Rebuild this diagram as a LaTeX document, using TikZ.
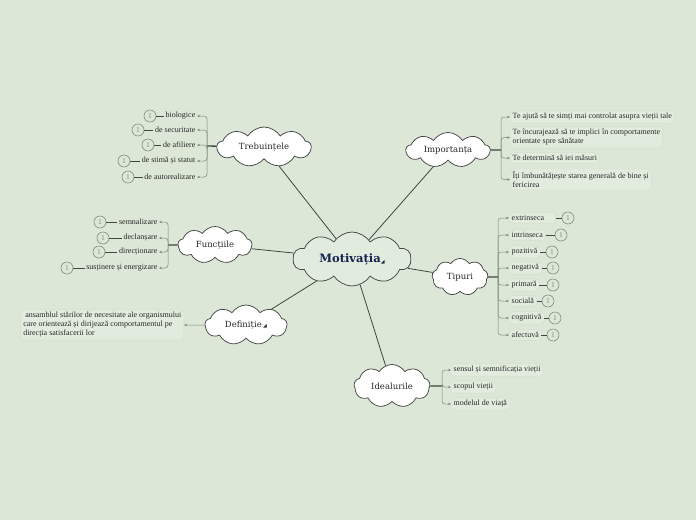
\documentclass[tikz,border=0pt]{standalone}
\usepackage{fontspec}
\setmainfont{Liberation Serif}
\newfontfamily\cloudfont{DejaVu Serif}
\newfontfamily\symfont{DejaVu Sans}
\usetikzlibrary{shapes.symbols,arrows.meta}
\definecolor{bg}{RGB}{220,231,215}
\definecolor{cloudline}{RGB}{70,72,70}
\definecolor{mainline}{RGB}{60,72,64}
\definecolor{brline}{RGB}{120,134,122}
\definecolor{boxfill}{RGB}{226,236,222}
\definecolor{boxline}{RGB}{210,222,206}
\definecolor{numline}{RGB}{130,140,130}
\definecolor{txt}{RGB}{40,40,40}
\definecolor{navy}{RGB}{20,35,80}
\definecolor{motfill}{RGB}{226,236,222}
\tikzset{
  cloudnode/.style={cloud, cloud puffs=9, cloud puff arc=115, cloud ignores aspect, draw=cloudline, fill=white,
    line width=0.75pt, inner sep=0pt, text=txt, font=\cloudfont\fontsize{8.5}{10}\selectfont},
  itemtxt/.style={font=\fontsize{8}{9}\selectfont, inner sep=1.5pt, text=txt},
  boxed/.style={itemtxt, fill=boxfill, draw=boxline, rounded corners=3pt, inner sep=2.5pt,
    line width=0.4pt, align=left},
  numc/.style={circle, draw=numline, line width=0.6pt, minimum size=12pt, inner sep=0pt,
    text=numline, font=\fontsize{7.5}{7.5}\selectfont},
  arr/.style={-{Stealth[length=3pt,width=2.4pt]}, draw=brline, line width=0.5pt, rounded corners=3pt},
  stem/.style={draw=mainline, line width=1.3pt},
  link/.style={draw=mainline, line width=0.8pt},
  dashln/.style={draw=mainline, line width=0.6pt}
}
\begin{document}
\begin{tikzpicture}[x=1pt,y=-1pt]
\fill[bg] (0,0) rectangle (696,520);
\useasboundingbox (0,0) rectangle (696,520);

% central
\node[cloudnode, cloud puffs=10, minimum width=118pt, minimum height=54pt, fill=motfill,
  font=\cloudfont\bfseries\fontsize{11.5}{13}\selectfont, text=navy] (mot) at (352,259)
  {Motivația{\symfont\fontsize{5}{5}\selectfont\raisebox{-1pt}{◢}}};

% main clouds
\node[cloudnode, minimum width=94pt, minimum height=40pt] (treb) at (264,147) {Trebuințele};
\node[cloudnode, minimum width=84pt, minimum height=35pt] (imp) at (448,150) {Importanța};
\node[cloudnode, minimum width=74pt, minimum height=37pt] (fun) at (215,245) {Funcțiile};
\node[cloudnode, minimum width=56pt, minimum height=37pt] (tip) at (460,277) {Tipuri};
\node[cloudnode, minimum width=82pt, minimum height=40pt] (def) at (246,325)
  {Definiție\,{\symfont\fontsize{5}{5}\selectfont\raisebox{0pt}{◢}}};
\node[cloudnode, minimum width=76pt, minimum height=43pt] (ide) at (392,386) {Idealurile};

\draw[link] (mot) -- (treb);
\draw[link] (mot) -- (imp);
\draw[link] (mot) -- (fun);
\draw[link] (mot) -- (tip);
\draw[link] (mot) -- (def);
\draw[link] (mot) -- (ide);

% Trebuintele branch
\coordinate (tb) at (207,146);
\draw[stem] (treb) -- (tb);
\node[itemtxt, anchor=east] (t1) at (197,116) {biologice};
\node[itemtxt, anchor=east] (t2) at (197,130) {de securitate};
\node[itemtxt, anchor=east] (t3) at (197,145) {de afiliere};
\node[itemtxt, anchor=east] (t4) at (197,161) {de stimă și statut};
\node[itemtxt, anchor=east] (t5) at (197,177) {de autorealizare};
\foreach \i in {1,...,5} {\draw[arr] (tb) |- (t\i.east);}
\node[numc] (tn1) at (150,116) {1};
\node[numc] (tn2) at (138,130) {1};
\node[numc] (tn3) at (148,145) {1};
\node[numc] (tn4) at (124,161) {1};
\node[numc] (tn5) at (128,177) {1};
\foreach \i in {1,...,5} {\draw[dashln] (tn\i) -- (t\i);}

% Importanta branch
\coordinate (ib) at (501,150);
\draw[stem] (imp) -- (ib);
\node[boxed, anchor=west] (i1) at (510,117) {Te ajută să te simți mai controlat asupra vieții tale};
\node[boxed, anchor=west] (i2) at (510,137.5) {Te încurajează să te implici în comportamente\\orientate spre sănătate};
\node[boxed, anchor=west] (i3) at (510,158) {Te determină să iei măsuri};
\node[boxed, anchor=west] (i4) at (510,179.5) {Îți îmbunătățește starea generală de bine și\\fericirea};
\foreach \i in {1,...,4} {\draw[arr] (ib) |- (i\i.west);}

% Functiile branch
\coordinate (fb) at (168,245);
\draw[stem] (fun) -- (fb);
\node[itemtxt, anchor=east] (f1) at (159,222) {semnalizare};
\node[itemtxt, anchor=east] (f2) at (159,238) {declanșare};
\node[itemtxt, anchor=east] (f3) at (159,252) {direcționare};
\node[itemtxt, anchor=east] (f4) at (159,268) {susținere și energizare};
\foreach \i in {1,...,4} {\draw[arr] (fb) |- (f\i.east);}
\node[numc] (fn1) at (100,222) {1};
\node[numc] (fn2) at (103,238) {1};
\node[numc] (fn3) at (99,252) {1};
\node[numc] (fn4) at (67,268) {1};
\foreach \i in {1,...,4} {\draw[dashln] (fn\i) -- (f\i);}

% Tipuri branch
\coordinate (pb) at (498,277);
\draw[stem] (tip) -- (pb);
\node[boxed, anchor=west] (p1) at (509,218) {extrinseca\hspace{9pt}};
\node[boxed, anchor=west] (p2) at (509,235) {intrinseca};
\node[boxed, anchor=west] (p3) at (509,252) {pozitivă};
\node[boxed, anchor=west] (p4) at (509,268) {negativă};
\node[boxed, anchor=west] (p5) at (509,285) {primară};
\node[boxed, anchor=west] (p6) at (509,301) {socială};
\node[boxed, anchor=west] (p7) at (509,318) {cognitivă};
\node[boxed, anchor=west] (p8) at (509,335) {afectuvă};
\foreach \i in {1,...,8} {\draw[arr] (pb) |- (p\i.west);}
\node[numc] (pn1) at (568,218) {1};
\node[numc] (pn2) at (561,235) {1};
\node[numc] (pn3) at (552,252) {1};
\node[numc] (pn4) at (553,268) {1};
\node[numc] (pn5) at (553,285) {1};
\node[numc] (pn6) at (548,301) {1};
\node[numc] (pn7) at (555,318) {1};
\node[numc] (pn8) at (553,335) {1};
\foreach \i in {1,...,8} {\draw[dashln] (p\i) -- (pn\i);}

% Definitie branch
\node[boxed, anchor=east] (dbox) at (184,325)
  {\ ansamblul stărilor de necesitate ale organismului\\care orientează și dirijează comportamentul pe\\direcția satisfacerii lor};
\draw[arr] (def) -- (dbox);

% Idealurile branch
\coordinate (db) at (442,386);
\draw[stem] (ide) -- (db);
\node[boxed, anchor=west] (d1) at (451,370) {sensul și semnificația vieții};
\node[boxed, anchor=west] (d2) at (451,387) {scopul vieții};
\node[boxed, anchor=west] (d3) at (451,404) {modelul de viață};
\foreach \i in {1,...,3} {\draw[arr] (db) |- (d\i.west);}
\end{tikzpicture}
\end{document}
